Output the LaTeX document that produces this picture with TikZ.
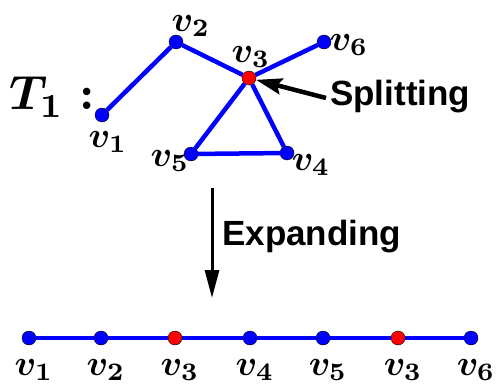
\documentclass[tikz,border=0pt]{standalone}
\usepackage{fontspec}
\setsansfont{Liberation Sans}
\usetikzlibrary{arrows.meta,backgrounds}
\tikzset{
  vtx/.style={circle,draw=black,thin,fill=blue,inner sep=0pt,minimum size=14pt},
  spl/.style={vtx,fill=red},
  gedge/.style={blue,line width=4.5pt},
  vlab/.style={inner sep=0pt,scale=3.6,font=\boldmath},
  word/.style={inner sep=0pt,font=\fontsize{35}{40}\selectfont\sffamily\bfseries}
}
\begin{document}
\begin{tikzpicture}[x=1pt,y=-1pt]
  \useasboundingbox (0,0) rectangle (497,385);
  % tree T_1
  \node[inner sep=0pt,scale=4.8,font=\boldmath] (tname) at (52,97) {$T_1:$};
  \node[vtx] (v1) at (102,115) {};
  \node[vtx] (v2) at (176,42) {};
  \node[spl] (v3) at (249,78) {};
  \node[vtx] (v4) at (287,153) {};
  \node[vtx] (v5) at (191,154) {};
  \node[vtx] (v6) at (324,42) {};
  \begin{scope}[on background layer]
    \draw[gedge] (v1) -- (v2) -- (v3) -- (v6);
    \draw[gedge] (v3) -- (v5) -- (v4) -- (v3);
  \end{scope}
  \node[vlab] (l1) at (108,142) {$v_1$};
  \node[vlab] (l2) at (191,26) {$v_2$};
  \node[vlab] (l3) at (251,57) {$v_3$};
  \node[vlab] (l4) at (311,165) {$v_4$};
  \node[vlab] (l5) at (170,161) {$v_5$};
  \node[vlab] (l6) at (349,45) {$v_6$};
  % splitting
  \node[word,anchor=west] (split) at (330,97) {Splitting};
  \draw[line width=4.5pt,-{Stealth[length=26pt,width=16pt,inset=4pt]}] (split.west) ++(-4pt,-1pt) coordinate (s0) (s0) -- (v3);
  % expanding
  \coordinate (e0) at (212,188);
  \coordinate (e1) at (212,298);
  \draw[line width=3pt,-{Triangle[length=28pt,width=14pt]}] (e0) -- (e1);
  \node[word,anchor=west] (expand) at (222,237) {Expanding};
  % path
  \foreach \x/\s in {29/vtx,101/vtx,175/spl,250/vtx,323/vtx,398/spl,471/vtx}
    \node[\s] (p\x) at (\x,338) {};
  \begin{scope}[on background layer]
    \draw[gedge,line width=4pt] (p29) -- (p101) -- (p175) -- (p250) -- (p323) -- (p398) -- (p471);
  \end{scope}
  \foreach \x/\n in {29/1,101/2,175/3,250/4,323/5,398/3,471/6}
    \node[vlab] (q\x) at (\x+5,370) {$v_\n$};
\end{tikzpicture}
\end{document}
